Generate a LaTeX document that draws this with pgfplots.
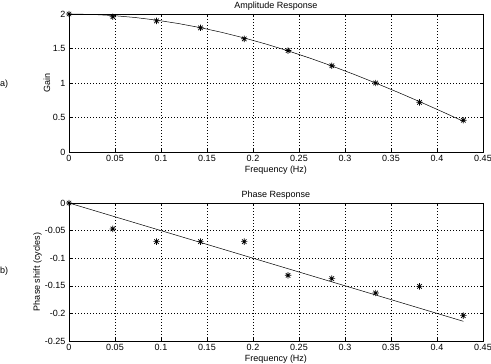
\documentclass[border=0pt]{standalone}
\usepackage{fontspec}
\setmainfont{Liberation Sans}
\usepackage{pgfplots}
\pgfplotsset{compat=1.18}
\pgfdeclareplotmark{mstar}{%
  \pgfpathmoveto{\pgfqpoint{0pt}{\pgfplotmarksize}}%
  \pgfpathlineto{\pgfqpoint{0pt}{-\pgfplotmarksize}}%
  \pgfpathmoveto{\pgfqpoint{\pgfplotmarksize}{0pt}}%
  \pgfpathlineto{\pgfqpoint{-\pgfplotmarksize}{0pt}}%
  \pgfpathmoveto{\pgfqpoint{0.7\pgfplotmarksize}{0.7\pgfplotmarksize}}%
  \pgfpathlineto{\pgfqpoint{-0.7\pgfplotmarksize}{-0.7\pgfplotmarksize}}%
  \pgfpathmoveto{\pgfqpoint{0.7\pgfplotmarksize}{-0.7\pgfplotmarksize}}%
  \pgfpathlineto{\pgfqpoint{-0.7\pgfplotmarksize}{0.7\pgfplotmarksize}}%
  \pgfusepathqstroke}
\pgfplotsset{
  every axis title shift=0pt,
  mstyle/.style={
    scale only axis, width=414pt, height=138pt,
    xmin=0, xmax=0.45,
    xtick={0,0.05,...,0.45},
    grid=major,
    major grid style={black, line width=0.5pt, dash pattern=on 1pt off 2pt},
    tick align=inside, major tick length=3pt,
    tick style={black, line width=0.5pt},
    axis line style={line width=0.6pt},
    /pgf/number format/assume math mode=true,
    tick label style={font=\fontsize{9}{10}\selectfont},
    label style={font=\fontsize{9}{10}\selectfont},
    title style={font=\fontsize{9}{10}\selectfont, at={(0.5,1)}, anchor=base, yshift=5pt, inner sep=0pt},
    xlabel style={at={(0.5,0)}, anchor=base, yshift=-21pt, inner sep=0pt},
    xlabel={Frequency (Hz)},
    xticklabel style={/pgf/number format/fixed},
    yticklabel style={/pgf/number format/fixed},
  }
}
\begin{document}
\begin{tikzpicture}
\useasboundingbox (0,0) rectangle (491pt,364pt);
\begin{axis}[mstyle, at={(69pt,212pt)}, anchor=south west,
  ymin=0, ymax=2, ytick={0,0.5,1,1.5,2},
  title={Amplitude Response},
  ylabel={Gain},
  ylabel style={at={(axis description cs:0,0.5)}, anchor=center, yshift=22pt},
]
\addplot[black, line width=0.5pt] coordinates {
(0,2) (0.0238,1.9944) (0.0476,1.9777) (0.0714,1.9499) (0.0952,1.9111)
(0.1190,1.8617) (0.1429,1.8019) (0.1667,1.7321) (0.1905,1.6525)
(0.2143,1.5637) (0.2381,1.4661) (0.2619,1.3603) (0.2857,1.2470)
(0.3095,1.1266) (0.3333,1.0000) (0.3571,0.8678) (0.3810,0.7307)
(0.4048,0.5895) (0.4286,0.4450)
};
\addplot[black, only marks, mark=mstar, mark size=3.2pt, mark options={line width=0.7pt}] coordinates {
(0,2) (0.0476,1.96) (0.0952,1.90) (0.1429,1.80) (0.1905,1.64)
(0.2381,1.47) (0.2857,1.25) (0.3333,1.00) (0.3810,0.72) (0.4286,0.46)
};
\end{axis}
\begin{axis}[mstyle, at={(69pt,23pt)}, anchor=south west,
  ymin=-0.25, ymax=0, ytick={-0.25,-0.2,-0.15,-0.1,-0.05,0},
  title={Phase Response},
  ylabel={Phase shift (cycles)},
  ylabel style={at={(axis description cs:0,0.5)}, anchor=center, yshift=31.5pt},
]
\addplot[black, line width=0.5pt] coordinates {
(0,0) (0.4286,-0.2143)
};
\addplot[black, only marks, mark=mstar, mark size=3.2pt, mark options={line width=0.7pt}] coordinates {
(0,0) (0.0476,-0.047) (0.0952,-0.070) (0.1429,-0.070) (0.1905,-0.070)
(0.2381,-0.131) (0.2857,-0.137) (0.3333,-0.163) (0.3810,-0.151) (0.4286,-0.204)
};
\end{axis}
\node[font=\fontsize{9}{10}\selectfont, anchor=west, inner sep=0pt] at (0pt,280pt) {a)};
\node[font=\fontsize{9}{10}\selectfont, anchor=west, inner sep=0pt] at (0pt,92.5pt) {b)};
\end{tikzpicture}
\end{document}
